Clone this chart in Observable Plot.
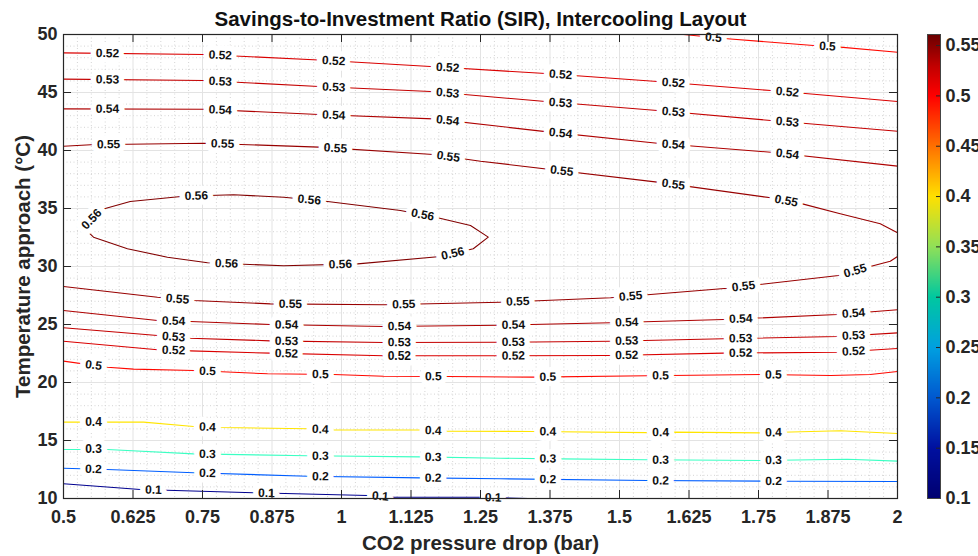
<!DOCTYPE html>
<html>
<head>
<meta charset="utf-8">
<script src="https://cdn.jsdelivr.net/npm/d3@7"></script>
<script src="https://cdn.jsdelivr.net/npm/@observablehq/plot@0.6"></script>
<style>
  html, body { margin: 0; padding: 0; background: #fff; overflow: hidden; }
  #chart { position: relative; width: 978px; height: 556px; }
  #chart svg { position: absolute; top: 0; }
</style>
</head>
<body>
<div id="chart"></div>
<script>
// ---- Axis ticks ----
const xTicks = [0.5, 0.625, 0.75, 0.875, 1, 1.125, 1.25, 1.375, 1.5, 1.625, 1.75, 1.875, 2];
const xTickLabels = ["0.5", "0.625", "0.75", "0.875", "1", "1.125", "1.25", "1.375", "1.5", "1.625", "1.75", "1.875", "2"];
const yTicks = [10, 15, 20, 25, 30, 35, 40, 45, 50];
const yTickLabels = ["10", "15", "20", "25", "30", "35", "40", "45", "50"];
const cbTicks = [0.1, 0.15, 0.2, 0.25, 0.3, 0.35, 0.4, 0.45, 0.5, 0.55];
const cbTickLabels = ["0.1", "0.15", "0.2", "0.25", "0.3", "0.35", "0.4", "0.45", "0.5", "0.55"];

// colour limits of the SIR field
const sirRange = [0.1, 0.561];
// jet colormap anchors (blue -> cyan -> yellow -> red) spread over the SIR limits, used for the contour lines
const jetStops = [0.1, 0.1576, 0.2729, 0.3881, 0.5034, 0.561];
const jetColors = ["#00008f", "#0000ff", "#00ffff", "#ffff00", "#ff0000", "#800000"];
// colour bar ramp
const barStops = [0.1, 0.15, 0.2, 0.25, 0.3, 0.35, 0.4, 0.45, 0.5, 0.53, 0.561];
const barColors = ["#000070", "#0010a0", "#0058d0", "#00a0e0", "#00c8a0", "#90e058",
                   "#ffe000", "#ff7000", "#ff0000", "#c00000", "#6a0000"];

// ---- Contour lines of SIR: [CO2 pressure drop (bar), temperature approach (°C)] ----
const sir010 = [[0.5, 11.27], [0.638, 10.78], [0.842, 10.49], [1.047, 10.26], [1.094, 10.11], [1.25, 10.11], [1.336, 10.0]];
const sir020 = [[0.5, 12.61], [0.579, 12.50], [0.734, 12.22], [0.939, 11.92], [1.142, 11.78], [1.286, 11.70], [1.550, 11.55], [1.802, 11.49], [2.0, 11.47]];
const sir030 = [[0.5, 14.22], [0.579, 14.22], [0.734, 13.85], [0.939, 13.68], [1.142, 13.59], [1.286, 13.47], [1.394, 13.42], [1.550, 13.34], [1.754, 13.28], [1.910, 13.39], [2.0, 13.22]];
const sir040 = [[0.5, 16.58], [0.644, 16.58], [0.734, 16.21], [0.782, 16.12], [0.939, 16.01], [0.986, 15.90], [1.142, 15.90], [1.191, 15.80], [1.345, 15.78], [1.550, 15.68], [1.597, 15.72], [1.754, 15.66], [1.897, 15.84], [2.0, 15.60]];
const sir050 = [[0.5, 21.84], [0.579, 21.32], [0.626, 21.15], [0.734, 21.03], [0.867, 20.75], [0.986, 20.69], [1.076, 20.54], [1.191, 20.52], [1.345, 20.46], [1.550, 20.58], [1.754, 20.69], [1.880, 20.60], [1.951, 20.69], [2.0, 20.95]];
const sir050top = [[1.615, 50.0], [1.694, 49.63], [1.849, 49.05], [1.897, 48.91], [2.0, 48.47]];
const sir052low = [[0.5, 23.56], [0.669, 22.82], [0.728, 22.73], [0.872, 22.53], [1.076, 22.30], [1.286, 22.30], [1.484, 22.33], [1.687, 22.53], [1.892, 22.61], [2.0, 22.93]];
const sir053low = [[0.5, 24.72], [0.669, 24.05], [0.728, 23.82], [0.872, 23.59], [1.076, 23.45], [1.286, 23.47], [1.484, 23.56], [1.687, 23.77], [1.892, 23.97], [2.0, 24.28]];
const sir054low = [[0.5, 26.21], [0.669, 25.34], [0.728, 25.26], [0.872, 25.00], [1.076, 24.83], [1.286, 24.94], [1.484, 25.15], [1.687, 25.43], [1.892, 25.86], [2.0, 26.27]];
const sir055low = [[0.5, 28.28], [0.669, 27.35], [0.734, 27.07], [0.872, 26.78], [1.076, 26.70], [1.286, 26.92], [1.484, 27.30], [1.694, 28.13], [1.894, 29.22], [1.951, 30.00], [1.987, 30.46], [2.0, 30.86]];
const sir056 = [[0.536, 33.36], [0.567, 34.89], [0.620, 35.60], [0.716, 36.06], [0.806, 36.18], [0.896, 35.97], [0.975, 35.60], [1.106, 34.83], [1.173, 34.20], [1.232, 33.53], [1.264, 32.53], [1.237, 31.53], [1.178, 30.86], [1.029, 30.23], [0.896, 30.06], [0.759, 30.32], [0.687, 30.80], [0.615, 31.53], [0.554, 32.53], [0.536, 33.36]];
const sir055high = [[0.5, 40.37], [0.549, 40.50], [0.752, 40.63], [0.959, 40.29], [1.165, 39.66], [1.25, 39.08], [1.568, 37.27], [1.772, 35.92], [1.829, 35.40], [1.897, 34.54], [1.969, 33.68], [2.0, 32.91]];
const sir054high = [[0.5, 43.59], [0.752, 43.56], [0.959, 43.10], [1.165, 42.73], [1.367, 41.63], [1.568, 40.63], [1.772, 39.85], [2.0, 38.65]];
const sir053high = [[0.5, 46.15], [0.752, 46.03], [0.959, 45.52], [1.160, 45.09], [1.367, 44.22], [1.568, 43.45], [1.772, 42.59], [2.0, 41.66]];
const sir052high = [[0.5, 48.42], [0.752, 48.28], [0.959, 47.80], [1.160, 47.24], [1.367, 46.64], [1.568, 45.95], [1.772, 45.17], [2.0, 44.22]];

// ---- Where each contour carries its inline label (x, or [x, y] near the line) ----
const lab010 = [0.662, 0.865, 1.070, 1.273];
const lab020 = [0.554, 0.759, 0.962, 1.165, 1.371, 1.574, 1.777];
const lab030 = [0.554, 0.759, 0.962, 1.165, 1.371, 1.574, 1.777];
const lab040 = [0.554, 0.759, 0.962, 1.165, 1.371, 1.574, 1.777];
const lab050 = [0.554, 0.759, 0.962, 1.165, 1.371, 1.574, 1.777];
const lab050top = [1.669, 1.874];
const lab052low = [0.698, 0.901, 1.104, 1.309, 1.513, 1.718, 1.921];
const lab053low = [0.698, 0.901, 1.104, 1.309, 1.513, 1.718, 1.921];
const lab054low = [0.698, 0.901, 1.104, 1.309, 1.513, 1.718, 1.921];
const lab055low = [0.705, 0.908, 1.112, 1.317, 1.520, 1.723, 1.924];
const lab056 = [[0.549, 34.14], [0.739, 36.06], [0.942, 35.69], [1.146, 34.48], [1.200, 31.12], [0.998, 30.17], [0.793, 30.17]];
const lab055high = [0.581, 0.786, 0.989, 1.192, 1.396, 1.597, 1.800];
const lab054high = [0.579, 0.782, 0.986, 1.191, 1.394, 1.597, 1.802];
const lab053high = [0.579, 0.782, 0.986, 1.191, 1.394, 1.597, 1.802];
const lab052high = [0.579, 0.782, 0.986, 1.191, 1.394, 1.597, 1.802];

const contours = [
  {level: 0.1, pts: sir010, labels: lab010},
  {level: 0.2, pts: sir020, labels: lab020},
  {level: 0.3, pts: sir030, labels: lab030},
  {level: 0.4, pts: sir040, labels: lab040},
  {level: 0.5, pts: sir050, labels: lab050},
  {level: 0.5, pts: sir050top, labels: lab050top},
  {level: 0.52, pts: sir052low, labels: lab052low},
  {level: 0.53, pts: sir053low, labels: lab053low},
  {level: 0.54, pts: sir054low, labels: lab054low},
  {level: 0.55, pts: sir055low, labels: lab055low},
  {level: 0.56, pts: sir056, labels: lab056},
  {level: 0.55, pts: sir055high, labels: lab055high},
  {level: 0.54, pts: sir054high, labels: lab054high},
  {level: 0.53, pts: sir053high, labels: lab053high},
  {level: 0.52, pts: sir052high, labels: lab052high}
];

// ---- Layout ----
const W = 978, H = 556;
const M = {top: 34, right: 81, bottom: 58, left: 63};
const xDomain = [0.5, 2], yDomain = [10, 50];
const frameW = W - M.left - M.right, frameH = H - M.top - M.bottom;
const FONT = "'Liberation Sans', Arial, Helvetica, sans-serif";
const INK = "#262626";

// pixel mapping (same geometry as the plot) used to orient the labels
const sx = d3.scaleLinear(xDomain, [M.left, W - M.right]);
const sy = d3.scaleLinear(yDomain, [H - M.bottom, M.top]);

function placeLabels(c, id) {
  const P = c.pts.map(([x, y]) => [sx(x), sy(y)]);
  return c.labels.map((s) => {
    let seg = 0, t = 0;
    if (typeof s === "number") {
      for (let i = 0; i < c.pts.length - 1; i++) {
        const x0 = c.pts[i][0], x1 = c.pts[i + 1][0];
        if (x0 !== x1 && (s - x0) * (s - x1) <= 0) { seg = i; t = (s - x0) / (x1 - x0); break; }
      }
    } else {
      const q = [sx(s[0]), sy(s[1])];
      let best = Infinity;
      for (let i = 0; i < P.length - 1; i++) {
        const a = P[i], b = P[i + 1];
        const dx = b[0] - a[0], dy = b[1] - a[1];
        let u = ((q[0] - a[0]) * dx + (q[1] - a[1]) * dy) / (dx * dx + dy * dy);
        u = Math.max(0, Math.min(1, u));
        const d = Math.hypot(a[0] + u * dx - q[0], a[1] + u * dy - q[1]);
        if (d < best) { best = d; seg = i; t = u; }
      }
    }
    const a = P[seg], b = P[seg + 1];
    let ang = Math.atan2(b[1] - a[1], b[0] - a[0]) * 180 / Math.PI;
    if (ang > 90) ang -= 180;
    if (ang < -90) ang += 180;
    const p0 = c.pts[seg], p1 = c.pts[seg + 1];
    return {
      id, level: c.level, text: String(c.level), rotate: ang,
      x: p0[0] + t * (p1[0] - p0[0]),
      y: p0[1] + t * (p1[1] - p0[1])
    };
  });
}

const lineRows = contours.flatMap((c, id) => c.pts.map(([x, y]) => ({id, level: c.level, x, y})));
const labelRows = contours.flatMap((c, id) => placeLabels(c, id));

const minorX = d3.range(0.5, 2.0001, 0.025).filter((v) => !xTicks.some((t) => Math.abs(t - v) < 1e-9));
const minorY = d3.range(10, 50.0001, 1).filter((v) => v % 5 !== 0);

const xFmt = new Map(xTicks.map((t, i) => [t, xTickLabels[i]]));
const yFmt = new Map(yTicks.map((t, i) => [t, yTickLabels[i]]));
const cbFmt = new Map(cbTicks.map((t, i) => [t, cbTickLabels[i]]));

const labelStyle = {x: "x", y: "y", text: "text", rotate: "rotate", fontSize: 12, fontWeight: "bold"};

const main = Plot.plot({
  width: W, height: H,
  marginTop: M.top, marginRight: M.right, marginBottom: M.bottom, marginLeft: M.left,
  style: {fontFamily: FONT, background: "#fff", color: INK},
  x: {domain: xDomain},
  y: {domain: yDomain},
  color: {type: "linear", domain: jetStops, range: jetColors, interpolate: "rgb"},
  marks: [
    // minor and major grid
    Plot.ruleX(minorX, {stroke: "#d4d4d4", strokeDasharray: "1,2.5"}),
    Plot.ruleY(minorY, {stroke: "#d4d4d4", strokeDasharray: "1,2.5"}),
    Plot.ruleX(xTicks, {stroke: "#e3e3e3"}),
    Plot.ruleY(yTicks, {stroke: "#e3e3e3"}),
    // contour lines
    Plot.line(lineRows, {x: "x", y: "y", z: "id", stroke: "level", strokeWidth: 1.1}),
    // white knock-outs that open a gap in each line, then the label text above all of them
    Plot.text(labelRows, {...labelStyle, fill: "#fff", stroke: "#fff", strokeWidth: 11, strokeLinejoin: "round"}),
    Plot.text(labelRows, {...labelStyle, fill: "#111"}),
    // inward ticks on all four sides
    Plot.tickX(xTicks, {x: (d) => d, insetTop: frameH - 8, stroke: INK}),
    Plot.tickX(xTicks, {x: (d) => d, insetBottom: frameH - 8, stroke: INK}),
    Plot.tickY(yTicks, {y: (d) => d, insetRight: frameW - 8, stroke: INK}),
    Plot.tickY(yTicks, {y: (d) => d, insetLeft: frameW - 8, stroke: INK}),
    Plot.frame({stroke: INK, strokeWidth: 1.2}),
    // tick labels
    Plot.axisX({ticks: xTicks, tickFormat: (d) => xFmt.get(d), tickSize: 0, tickPadding: 12,
      fontSize: 18, fontWeight: "bold", fill: INK, label: null}),
    Plot.axisY({ticks: yTicks, tickFormat: (d) => yFmt.get(d), tickSize: 0, tickPadding: 6,
      fontSize: 18, fontWeight: "bold", fill: INK, label: null}),
    // title and axis titles
    Plot.text(["Savings-to-Investment Ratio (SIR), Intercooling Layout"], {
      text: (d) => d, frameAnchor: "top", lineAnchor: "middle", textAnchor: "middle", dy: -15,
      fontSize: 20.5, fontWeight: "bold", fill: "#111"
    }),
    Plot.text(["CO2 pressure drop (bar)"], {
      text: (d) => d, frameAnchor: "bottom", lineAnchor: "middle", textAnchor: "middle", dy: 45,
      fontSize: 20.5, fontWeight: "bold", fill: INK
    }),
    Plot.text(["Temperature approach (°C)"], {
      text: (d) => d, frameAnchor: "left", lineAnchor: "middle", textAnchor: "middle", dx: -40, rotate: -90,
      fontSize: 20.5, fontWeight: "bold", fill: INK
    })
  ]
});
main.style.left = "0px";

// ---- Colour bar ----
const CB = {left: 927, width: 13};
const colorbar = Plot.plot({
  width: W - CB.left, height: H,
  marginTop: M.top, marginBottom: M.bottom, marginLeft: 0, marginRight: W - CB.left - CB.width,
  style: {fontFamily: FONT, background: "none", color: INK, overflow: "visible"},
  x: {domain: [0, 1], axis: null},
  y: {domain: sirRange},
  color: {type: "linear", domain: barStops, range: barColors, interpolate: "rgb"},
  marks: [
    Plot.raster({fill: (x, y) => y, x1: 0, x2: 1, y1: sirRange[0], y2: sirRange[1], pixelSize: 1, imageRendering: "auto"}),
    Plot.tickY(cbTicks, {y: (d) => d, insetLeft: CB.width - 4, stroke: INK}),
    Plot.frame({stroke: "#444", strokeWidth: 1}),
    Plot.axisY({anchor: "right", ticks: cbTicks, tickFormat: (d) => cbFmt.get(d), tickSize: 0, tickPadding: 5,
      fontSize: 18, fontWeight: "bold", fill: INK, label: null})
  ]
});
colorbar.style.left = CB.left + "px";

const chart = document.getElementById("chart");
chart.appendChild(main);
chart.appendChild(colorbar);
</script>
</body>
</html>
